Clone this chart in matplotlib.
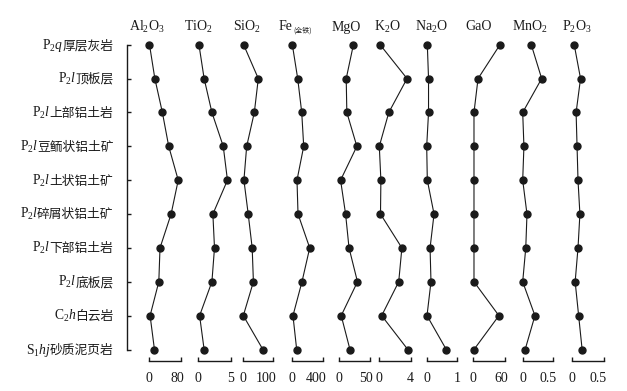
import matplotlib
matplotlib.use('Agg')
import matplotlib.pyplot as plt

plt.rcParams['font.family'] = ['Liberation Serif', 'Noto Sans CJK SC', 'DejaVu Sans']
plt.rcParams['mathtext.fontset'] = 'custom'
plt.rcParams['mathtext.rm'] = 'Liberation Serif'
plt.rcParams['mathtext.it'] = 'Liberation Serif:italic'

# ---------------- data ----------------
strata_prefix = [r'$\mathrm{P}_2\mathit{q}$', r'$\mathrm{P}_2\mathit{l}$', r'$\mathrm{P}_2\mathit{l}$',
                 r'$\mathrm{P}_2\mathit{l}$', r'$\mathrm{P}_2\mathit{l}$', r'$\mathrm{P}_2\mathit{l}$',
                 r'$\mathrm{P}_2\mathit{l}$', r'$\mathrm{P}_2\mathit{l}$', r'$\mathrm{C}_2\mathit{h}$',
                 r'$\mathrm{S}_1\mathit{hj}$']
strata_names = ['厚层灰岩', '顶板层', '上部铝土岩', '豆鲕状铝土矿', '土状铝土矿',
                '碎屑状铝土矿', '下部铝土岩', '底板层', '白云岩', '砂质泥页岩']

titles = [r'Al$_2$O$_3$', r'TiO$_2$', r'SiO$_2$', 'Fe', 'MgO', r'K$_2$O',
          r'Na$_2$O', 'GaO', r'MnO$_2$', r'P$_2$O$_3$']
fe_note = '(全铁)'
tick_max = [80, 5, 100, 400, 50, 4, 1, 60, 0.5, 0.5]
tick_max_labels = ['80', '5', '100', '400', '50', '4', '1', '60', '0.5', '0.5']

al2o3 = [0.5, 14, 33, 49, 73, 55, 27, 24, 2, 13]
tio2 = [0.1, 0.9, 2.1, 3.85, 4.5, 2.25, 2.5, 2.1, 0.2, 0.9]
sio2 = [3, 51, 38, 13, 4, 18, 31, 35, 2, 66]
fe = [8, 76, 127, 152, 67, 80, 228, 130, 16, 63]
mgo = [23.5, 12, 13, 29, 3, 11, 16.5, 30, 4, 18]
k2o = [0.1, 3.5, 1.2, 0.0, 0.2, 0.15, 2.85, 2.45, 0.3, 3.6]
na2o = [0.02, 0.06, 0.06, 0.0, 0.02, 0.24, 0.11, 0.14, 0.01, 0.64]
gao = [50.5, 9, 1.3, 1.3, 1.3, 1.3, 1.3, 1.3, 48.5, 1.3]
mno2 = [0.14, 0.31, 0.0, 0.02, 0.0, 0.07, 0.05, 0.0, 0.2, 0.04]
p2o3 = [0.03, 0.13, 0.06, 0.075, 0.09, 0.12, 0.09, 0.045, 0.1, 0.155]
series = [al2o3, tio2, sio2, fe, mgo, k2o, na2o, gao, mno2, p2o3]

# ---------------- layout (pixels) ----------------
W, H = 627, 391
fig = plt.figure(figsize=(W / 100, H / 100), dpi=100)
fig.patch.set_facecolor('white')

row_top, row_step = 44.7, 33.87
n = len(strata_names)
ytop_lim, ybot_lim = -0.5, (361.0 - row_top) / row_step
ax_top_px = row_top + ytop_lim * row_step
ax_bot_px = row_top + ybot_lim * row_step
ax_b = 1 - ax_bot_px / H
ax_h = (ax_bot_px - ax_top_px) / H

px0 = [149.3, 198.3, 242.7, 291.7, 338.7, 379.3, 426.7, 473.3, 522.7, 572.3]
px1 = [181.0, 230.7, 273.3, 323.3, 370.0, 411.0, 457.3, 505.0, 553.3, 604.0]
title_cx = [147, 198, 247, 285.5, 346, 387, 432, 479, 530, 577]
ink = '#1a1a1a'

# label axis (left spine with ticks)
ax0 = fig.add_axes([127.3 / W, ax_b, 5 / W, ax_h])
ax0.set_ylim(ybot_lim, ytop_lim)
ax0.set_xlim(0, 1)
for s in ['top', 'right', 'bottom']:
    ax0.spines[s].set_visible(False)
ax0.spines['left'].set_bounds(0, n - 1)
ax0.spines['left'].set_linewidth(1.0)
ax0.spines['left'].set_color(ink)
ax0.set_yticks(range(n))
ax0.set_yticklabels([])
ax0.tick_params(axis='y', direction='in', length=3.2, width=1.0, color=ink)
ax0.set_xticks([])
ax0.patch.set_alpha(0)

name_texts = []
for i, name in enumerate(strata_names):
    t = ax0.annotate(name, xy=(0, i), xycoords=ax0.get_yaxis_transform(),
                     xytext=(-(127.3 - 113.5) * 0.72, -4.3 * 0.72), textcoords='offset points',
                     ha='right', va='baseline', fontsize=9.2,
                     family=['Noto Sans CJK SC', 'DejaVu Sans'], color=ink)
    name_texts.append(t)

# panels
pad = 9
for k in range(len(series)):
    scale = tick_max[k] / (px1[k] - px0[k])
    left_px = px0[k] - pad
    right_px = px1[k] + pad
    ax = fig.add_axes([left_px / W, ax_b, (right_px - left_px) / W, ax_h])
    ax.set_xlim(-pad * scale, tick_max[k] + pad * scale)
    ax.set_ylim(ybot_lim, ytop_lim)
    ax.patch.set_alpha(0)
    for s in ['top', 'right', 'left']:
        ax.spines[s].set_visible(False)
    ax.spines['bottom'].set_bounds(0, tick_max[k])
    ax.spines['bottom'].set_linewidth(1.0)
    ax.spines['bottom'].set_color(ink)
    ax.set_yticks([])
    ax.set_xticks([0, tick_max[k]])
    ax.set_xticklabels([])
    ax.tick_params(axis='x', direction='in', length=3.0, width=1.0, color=ink)
    ax.plot(series[k], range(n), color=ink, lw=0.8, marker='o', ms=5.0,
            mfc=ink, mec=ink, clip_on=False)
    bt = ax.get_xaxis_transform()
    ax.annotate('0', xy=(0, 0), xycoords=bt, xytext=(0, -15.2), textcoords='offset points',
                ha='center', va='baseline', fontsize=10, color=ink)
    ax.annotate(tick_max_labels[k], xy=(tick_max[k], 0), xycoords=bt,
                xytext=(2.2, -15.2), textcoords='offset points',
                ha='right', va='baseline', fontsize=10, color=ink)

# titles
for k, ttl in enumerate(titles):
    fig.text(title_cx[k] / W, 1 - 30.5 / H, ttl, ha='center', va='baseline',
             fontsize=10, color=ink)
fig.text(293.5 / W, 1 - 32.5 / H, fe_note, ha='left', va='baseline', fontsize=5,
         family=['Noto Sans CJK SC', 'DejaVu Sans'], color=ink)

# prefixes for stratum labels placed left of the Chinese names
fig.canvas.draw()
renderer = fig.canvas.get_renderer()
for i, t in enumerate(name_texts):
    bb = t.get_window_extent(renderer)
    y_disp = ax0.transData.transform((0, i))[1] - 4.3
    fig.text((bb.x0 + 1.0) / W, y_disp / H, strata_prefix[i], ha='right', va='baseline',
             fontsize=9.8, color=ink)

fig.savefig('out.png', dpi=100)
